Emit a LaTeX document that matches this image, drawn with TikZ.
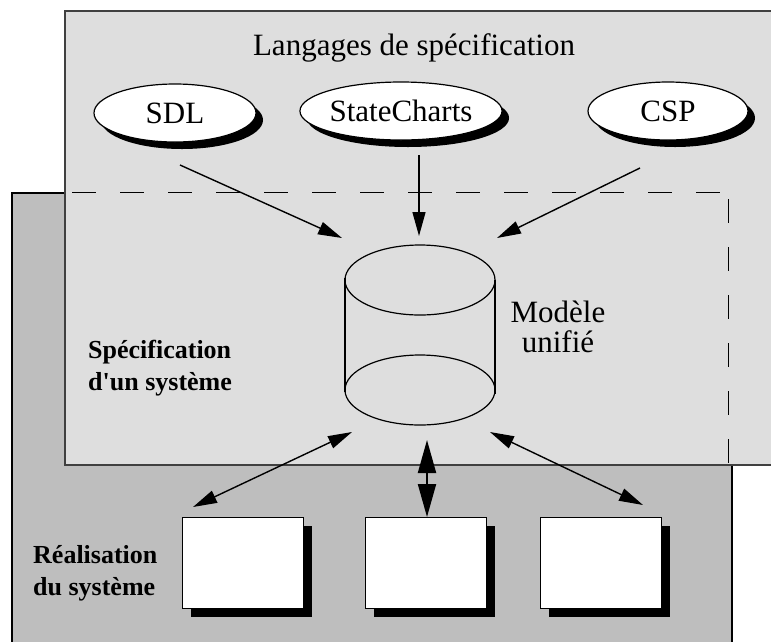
\documentclass[tikz,border=0pt]{standalone}
\usepackage{fontspec}
\setmainfont{Liberation Serif}
\usetikzlibrary{shapes.geometric,shadows,arrows.meta}
\definecolor{lightbg}{HTML}{DEDEDE}
\definecolor{darkbg}{HTML}{BEBEBE}
\definecolor{edgegray}{HTML}{404040}
\begin{document}
\begin{tikzpicture}[x=1pt,y=-1pt,
  lang/.style={ellipse,draw=black,line width=1.2pt,fill=white,minimum height=58pt,inner sep=0pt,
    font=\fontsize{31}{37}\selectfont,
    drop shadow={shadow xshift=7pt,shadow yshift=-7pt,fill=black,opacity=1}},
  implbox/.style={rectangle,draw=black,line width=1.5pt,fill=white,minimum width=121pt,minimum height=91pt,
    drop shadow={shadow xshift=8pt,shadow yshift=-8pt,fill=black,opacity=1}},
  arr/.style={line width=1.4pt,-{Triangle[length=24pt,width=13pt]}},
  darr/.style={line width=1.4pt,{Triangle[length=24pt,width=13pt]}-{Triangle[length=24pt,width=13pt]}},
  bigdarr/.style={line width=2pt,{Triangle[length=33pt,width=18pt]}-{Triangle[length=33pt,width=18pt]}},
  boldlabel/.style={font=\bfseries\fontsize{26}{32}\selectfont,align=left,inner sep=0pt,anchor=west},
  plainlabel/.style={font=\fontsize{31}{30}\selectfont,inner sep=0pt}]
\useasboundingbox (0,0) rectangle (771,641);
\fill[white] (0,0) rectangle (771,641);
% realisation area (dark)
\draw[fill=darkbg,draw=black,line width=1.5pt] (12,193) rectangle (732,660);
% specification languages area (light)
\draw[fill=lightbg,draw=edgegray,line width=2pt] (65,11) rectangle (800,465);
% dashed frame of unified model
\coordinate (dA) at (72,192);
\coordinate (dB) at (728,192);
\coordinate (dC) at (728,199);
\coordinate (dD) at (728,465);
\draw[line width=1pt,dash pattern=on 24pt off 24pt] (dA) -- (dB);
\draw[line width=1pt,dash pattern=on 24pt off 24pt] (dC) -- (dD);
% title
\node[plainlabel,anchor=base] (title) at (414,55) {Langages de spécification};
% languages
\node[lang,minimum width=162pt] (sdl) at (175,113) {SDL};
\node[lang,minimum width=182pt] (sc) at (401,111) {StateCharts};
\node[lang,minimum width=160pt] (csp) at (668,111) {CSP};
% cylinder (unified model)
\coordinate (db) at (420,335);
\draw[line width=1.2pt] (420,280) ellipse [x radius=75pt,y radius=35pt];
\draw[line width=1.2pt] (420,390) ellipse [x radius=75pt,y radius=35pt];
\draw[line width=2pt] (345,278) -- (345,392);
\draw[line width=2pt] (495,280) -- (495,394);
\node[plainlabel,align=center] (mu) at (558,327) {Modèle\\unifié};
% labels
\node[boldlabel] (spec) at (88,368) {Spécification\\d\textquotesingle un système};
\node[boldlabel] (real) at (33,573) {Réalisation\\du système};
% implementation boxes
\node[implbox] (b1) at (243,563) {};
\node[implbox] (b2) at (426,563) {};
\node[implbox] (b3) at (601,563) {};
% arrow end points
\coordinate (s1) at (180,165);
\coordinate (t1) at (342,238);
\coordinate (s2) at (419,155);
\coordinate (t2) at (419,236);
\coordinate (s3) at (640,168);
\coordinate (t3) at (497,238);
\coordinate (u1) at (352,432);
\coordinate (v1) at (193,507);
\coordinate (u2) at (427,440);
\coordinate (v2) at (427,517);
\coordinate (u3) at (490,432);
\coordinate (v3) at (643,505);
\draw[arr] (s1) -- (t1);
\draw[arr] (s2) -- (t2);
\draw[arr] (s3) -- (t3);
\draw[darr] (u1) -- (v1);
\draw[bigdarr] (u2) -- (v2);
\draw[darr] (u3) -- (v3);
\end{tikzpicture}
\end{document}
